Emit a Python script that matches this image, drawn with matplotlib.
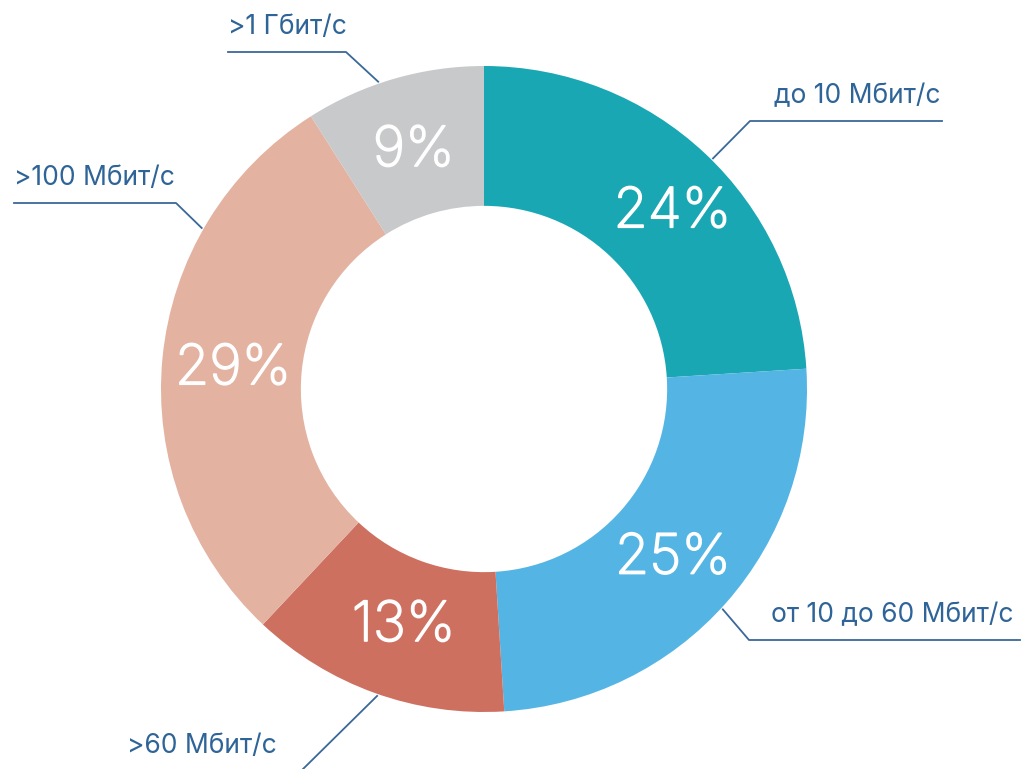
import numpy as np
import matplotlib.pyplot as plt
import matplotlib.patheffects as pe

plt.rcParams['font.family'] = ['Inter', 'DejaVu Sans']

# data
labels = ['до 10 Мбит/с', 'от 10 до 60 Мбит/с', '>60 Мбит/с', '>100 Мбит/с', '>1 Гбит/с']
shares = [24, 25, 13, 29, 9]
colors = ['#1AA7B4', '#54B5E4', '#CE7060', '#E3B2A1', '#C8C9CB']

W, H = 1026, 769
cx, cy, R = 484, H - 389, 323
line_col = '#3A6898'
text_col = '#2E6497'

fig = plt.figure(figsize=(W / 100, H / 100), dpi=100)
ax = fig.add_axes([0, 0, 1, 1])
ax.set_xlim(0, W)
ax.set_ylim(0, H)
ax.set_aspect('equal')
ax.axis('off')

wedges, _, pcts = ax.pie(shares, colors=colors, startangle=90, counterclock=False,
                         center=(cx, cy), radius=R, autopct='%d%%', pctdistance=0.78,
                         wedgeprops=dict(width=0.433 * R, linewidth=0),
                         textprops=dict(color='white', fontsize=40, fontweight='light'))
# small nudges for the percentage labels (px)
nudge = [(16, -7), (0, -3), (5, 0), (0, -4), (0, -4)]
for t, (dx, dy) in zip(pcts, nudge):
    x, y = t.get_position()
    t.set_position((x + dx, y + dy))
    t.set_path_effects([pe.withStroke(linewidth=1.1, foreground='white')])
ax.set_xlim(0, W)
ax.set_ylim(0, H)

# leader lines: angle on the ring (deg, clockwise from top), elbow (px), line end x, text side
leaders = [
    (44.8, (750, 121), 942, 'right'),
    (132.7, (749, 640), 1020, 'left'),
    (199.2, (301, 771), 127, 'left'),
    (299.7, (176, 203), 14, 'left'),
    (341.0, (346, 52), 228, 'left'),
]

for lab, (ang, (ex, ey), endx, side) in zip(labels, leaders):
    a = np.radians(ang)
    sx = cx + (R + 2) * np.sin(a)
    sy = cy + (R + 2) * np.cos(a)
    ey = H - ey
    ax.plot([sx, ex, endx], [sy, ey, ey], color=line_col, lw=1.3, clip_on=True)
    if side == 'right':
        tx, ha = endx - 2, 'right'
    else:
        tx, ha = min(ex, endx) + 22 if ex < endx else endx, 'left'
    ax.text(tx, ey + 12, lab, ha=ha, va='bottom', color=text_col, fontsize=19)

fig.savefig('out.png', dpi=100)
